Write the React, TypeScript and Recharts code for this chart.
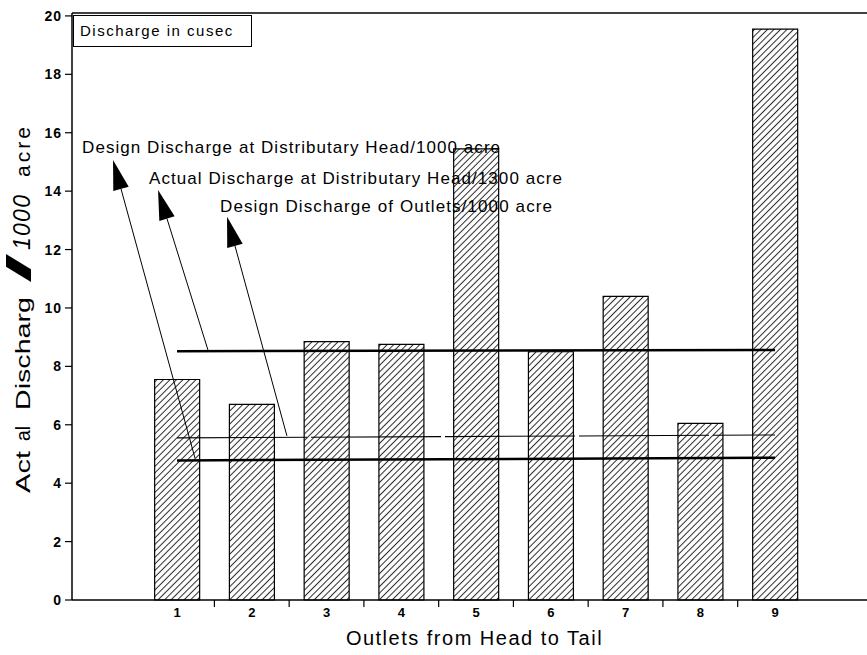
import React from 'react';
import { BarChart, Bar, XAxis, YAxis, ReferenceLine, ReferenceDot } from 'recharts';

// outlets along the distributary, head to tail
const outlets = [1, 2, 3, 4, 5, 6, 7, 8, 9];
const actualDischarge = [7.55, 6.7, 8.85, 8.75, 15.45, 8.5, 10.4, 6.05, 19.55];

// horizontal reference levels, value at outlet 1 and at outlet 9
const designHead = [8.52, 8.56];
const actualHead = [5.55, 5.65];
const designOutlets = [4.78, 4.87];

const yTicks = [0, 2, 4, 6, 8, 10, 12, 14, 16, 18, 20];
const xLabelTicks = [1, 2, 3, 4, 5, 6, 7, 8, 9];
const xGapTicks = [1.5, 2.5, 3.5, 4.5, 5.5, 6.5, 7.5, 8.5];

const annotationText = [
  'Design Discharge at Distributary Head/1000 acre',
  'Actual Discharge at Distributary Head/1300 acre',
  'Design Discharge of Outlets/1000 acre',
];
// where each note starts (x in outlet units, y in discharge units)
const annotationAt = [
  { x: -0.27, y: 15.51 },
  { x: 0.625, y: 14.45 },
  { x: 1.575, y: 13.49 },
];
// arrow from a level line up to the note
const arrowFrom = [
  { x: 1.24, y: 4.86 },
  { x: 1.415, y: 8.55 },
  { x: 2.47, y: 5.62 },
];
const arrowTo = [
  { x: 0.144, y: 15.07 },
  { x: 0.746, y: 14.04 },
  { x: 1.669, y: 13.12 },
];

const data = outlets.map((o, i) => ({ outlet: o, discharge: actualDischarge[i] }));
const allTicks = [...xLabelTicks, ...xGapTicks].sort((a, b) => a - b);

const FONT = "'Liberation Sans', Arial, sans-serif";
const noteWidths = [418, 413, 332];

const XTick = (props: any) => {
  const { x, y, payload } = props;
  if (Number.isInteger(payload.value)) {
    return (
      <text x={x} y={y + 17} textAnchor="middle" fontSize={13} fontWeight="bold" fontFamily={FONT} fill="#000">
        {payload.value}
      </text>
    );
  }
  return <line x1={x} x2={x} y1={y} y2={y + 7} stroke="#000" strokeWidth={1.2} />;
};

const Arrow = (props: any) => {
  const { x1, y1, x2, y2 } = props;
  const dx = x2 - x1;
  const dy = y2 - y1;
  const len = Math.sqrt(dx * dx + dy * dy);
  const ux = dx / len;
  const uy = dy / len;
  const head = 30;
  const half = 8;
  const bx = x2 - ux * head;
  const by = y2 - uy * head;
  const pts = `${x2},${y2} ${bx - uy * half},${by + ux * half} ${bx + uy * half},${by - ux * half}`;
  return (
    <g>
      <line x1={x1} y1={y1} x2={bx} y2={by} stroke="#000" strokeWidth={1} />
      <polygon points={pts} fill="#000" />
    </g>
  );
};

const noteShape = (i: number) => (props: any) => (
  <text
    x={props.cx}
    y={props.cy}
    dominantBaseline="central"
    fontSize={17}
    fontFamily={FONT}
    fill="#000"
    textLength={noteWidths[i]}
    lengthAdjust="spacing"
  >
    {annotationText[i]}
  </text>
);

const YLabel = () => {
  const part = (txt: string, start: number, len: number, size: number, extra: any = {}) => (
    <text
      x={30}
      y={start}
      transform={`rotate(-90, 30, ${start})`}
      fontSize={size}
      fontFamily={FONT}
      fill="#000"
      textLength={len}
      lengthAdjust="spacingAndGlyphs"
      {...extra}
    >
      {txt}
    </text>
  );
  return (
    <g>
      {part('Act', 493, 42, 21)}
      {part('al', 441, 15, 21)}
      {part('Discharg', 410, 113, 21)}
      {part('/', 283, 30, 34, { fontWeight: 'bold' })}
      {part('1000', 250, 55, 23, { fontStyle: 'italic', lengthAdjust: 'spacing' })}
      {part('acre', 177, 50, 21, { lengthAdjust: 'spacing' })}
    </g>
  );
};

export default function App() {
  return (
    <div style={{ position: 'absolute', left: 0, top: 0, width: 867, height: 655, background: '#fff' }}>
      <svg width={0} height={0} style={{ position: 'absolute' }}>
        <defs>
          <pattern id="hatch" width={4.6} height={4.6} patternUnits="userSpaceOnUse" patternTransform="rotate(45)">
            <rect width={4.6} height={4.6} fill="#fff" />
            <line x1={2.3} y1={0} x2={2.3} y2={4.6} stroke="#2a2a2a" strokeWidth={1} />
          </pattern>
        </defs>
      </svg>
      <BarChart width={867} height={655} data={data} margin={{ top: 13, right: 0, bottom: 0, left: 0 }}>
        <XAxis
          dataKey="outlet"
          type="number"
          domain={[-0.405, 10.23]}
          ticks={allTicks}
          interval={0}
          tick={<XTick />}
          tickLine={false}
          tickSize={0}
          tickMargin={0}
          height={55}
          axisLine={{ stroke: '#000', strokeWidth: 1.5 }}
          allowDataOverflow
          label={{
            value: 'Outlets from Head to Tail',
            position: 'insideBottom',
            offset: 10,
            dx: 5,
            fontSize: 20,
            fontFamily: FONT,
            fill: '#000',
            letterSpacing: 1.5,
          }}
        />
        <YAxis
          type="number"
          domain={[0, 20.1]}
          ticks={yTicks}
          interval={0}
          width={72}
          tickSize={7}
          tickMargin={3}
          tick={{ fontSize: 14, fontWeight: 'bold', fill: '#000', fontFamily: FONT, letterSpacing: 1 }}
          tickLine={{ stroke: '#000', strokeWidth: 1.2 }}
          axisLine={{ stroke: '#000', strokeWidth: 1.5 }}
          label={{ content: <YLabel /> }}
        />
        <ReferenceLine y={20.1} stroke="#000" strokeWidth={1.5} />
        <Bar dataKey="discharge" barSize={45} fill="url(#hatch)" stroke="#000" strokeWidth={1.2} isAnimationActive={false} />
        <ReferenceLine
          segment={[{ x: 1, y: designHead[0] }, { x: 9, y: designHead[1] }]}
          stroke="#000"
          strokeWidth={2.5}
        />
        <ReferenceLine
          segment={[{ x: 1, y: actualHead[0] }, { x: 9, y: actualHead[1] }]}
          stroke="#000"
          strokeWidth={1.1}
          strokeDasharray="130 4"
        />
        <ReferenceLine
          segment={[{ x: 1, y: designOutlets[0] }, { x: 9, y: designOutlets[1] }]}
          stroke="#000"
          strokeWidth={2.5}
        />
        {arrowFrom.map((p, i) => (
          <ReferenceLine key={'a' + i} segment={[p, arrowTo[i]]} ifOverflow="visible" shape={Arrow} />
        ))}
        {annotationAt.map((p, i) => (
          <ReferenceDot key={'n' + i} x={p.x} y={p.y} r={0} ifOverflow="visible" shape={noteShape(i)} />
        ))}
      </BarChart>
      <div
        style={{
          position: 'absolute',
          left: 73,
          top: 15,
          width: 179,
          height: 32,
          boxSizing: 'border-box',
          border: '1.5px solid #000',
          background: '#fff',
          fontFamily: FONT,
          fontSize: 15,
          letterSpacing: 1.5,
          lineHeight: '29px',
          paddingLeft: 6,
          color: '#000',
        }}
      >
        Discharge in cusec
      </div>
    </div>
  );
}
